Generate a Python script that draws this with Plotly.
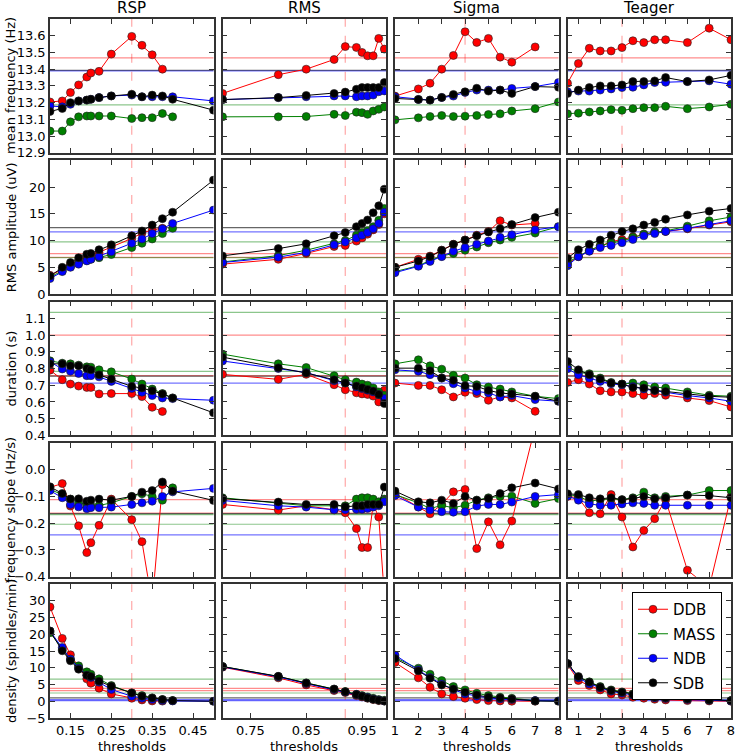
import plotly.graph_objects as go
from plotly.subplots import make_subplots

# thresholds per detector
methods = ["RSP", "RMS", "Sigma", "Teager"]
databases = ["DDB", "MASS", "NDB", "SDB"]
metrics = ["mean frequency (Hz)", "RMS amplitude (uV)", "duration (s)",
           "frequency slope (Hz/s)", "density (spindles/min)"]

rsp_x = [0.1, 0.13, 0.15, 0.17, 0.19, 0.2, 0.22, 0.25, 0.3, 0.325, 0.35, 0.375, 0.4, 0.5]
rms_x = [0.7, 0.8, 0.85, 0.9, 0.92, 0.94, 0.95, 0.96, 0.97, 0.98, 0.99]
sigma_x = [1, 2, 2.5, 3, 3.5, 4, 4.5, 5, 5.5, 6, 7, 8]
teager_x = [0.5, 1, 1.5, 2, 2.5, 3, 3.5, 4, 4.5, 5, 6, 7, 8]

chosen_thr = [0.3, 0.92, 4, 3]

# ---- RSP ----
rsp_freq = {
    "DDB": [13.204, 13.21, 13.26, 13.306, 13.353, 13.377, 13.387, 13.49, 13.596, 13.543, 13.486, 13.40, None, None],
    "MASS": [13.03, 13.03, 13.085, 13.115, 13.12, 13.12, 13.12, 13.12, 13.105, 13.11, 13.11, 13.135, 13.115, None],
    "NDB": [13.18, 13.175, 13.19, 13.21, 13.215, 13.22, 13.23, 13.24, 13.245, 13.235, 13.235, 13.235, 13.235, 13.21],
    "SDB": [13.147, 13.165, 13.20, 13.21, 13.215, 13.22, 13.23, 13.24, 13.25, 13.235, 13.245, 13.24, 13.22, 13.155],
}
rsp_amp = {
    "DDB": [3.5, 4.6, 5.5, 6.2, 7.1, 7.3, 7.8, 8.8, 10.4, 11.4, 12.0, 12.3, None, None],
    "MASS": [3.2, 4.3, 5.1, 5.8, 6.3, 6.5, 6.8, 7.4, 8.7, 9.5, 10.3, 11.3, 12.3, None],
    "NDB": [2.9, 4.2, 5.0, 5.6, 6.2, 6.5, 7.0, 7.9, 9.5, 10.3, 11.3, 12.2, 13.2, 15.7],
    "SDB": [3.4, 5.0, 5.9, 6.8, 7.45, 7.6, 8.3, 9.2, 10.9, 11.8, 12.9, 14.1, 15.3, 21.3],
}
rsp_dur = {
    "DDB": [0.79, 0.733, 0.707, 0.695, 0.687, 0.687, 0.648, 0.65, 0.65, 0.632, 0.568, 0.543, None, None],
    "MASS": [0.846, 0.832, 0.828, 0.82, 0.81, 0.808, 0.792, 0.78, 0.737, 0.707, 0.677, 0.65, 0.624, None],
    "NDB": [0.84, 0.797, 0.783, 0.77, 0.757, 0.757, 0.75, 0.723, 0.68, 0.658, 0.638, 0.624, 0.62, 0.61],
    "SDB": [0.828, 0.828, 0.816, 0.816, 0.80, 0.792, 0.762, 0.737, 0.693, 0.683, 0.667, 0.648, 0.624, 0.535],
}
rsp_slope = {
    "DDB": [-0.066, -0.052, -0.136, -0.21, -0.31, -0.273, -0.208, -0.11, -0.187, -0.269, -0.5, -0.056, None, None],
    "MASS": [-0.074, -0.093, -0.11, -0.124, -0.13, -0.134, -0.134, -0.124, -0.10, -0.09, -0.10, -0.114, -0.068, None],
    "NDB": [-0.078, -0.105, -0.13, -0.139, -0.146, -0.142, -0.142, -0.14, -0.13, -0.124, -0.118, -0.10, -0.083, -0.07],
    "SDB": [-0.064, -0.089, -0.11, -0.109, -0.118, -0.114, -0.11, -0.114, -0.10, -0.084, -0.078, -0.046, -0.08, -0.115],
}
rsp_dens = {
    "DDB": [28.2, 18.8, 13.9, 10.2, 6.7, 5.4, 3.9, 2.2, 0.9, 0.4, 0.1, 0.05, None, None],
    "MASS": [20.5, 15.6, 12.6, 10.6, 8.8, 8.1, 6.7, 4.7, 2.5, 1.7, 1.0, 0.5, 0.2, None],
    "NDB": [21.0, 16.1, 12.6, 9.9, 7.8, 7.1, 5.7, 3.5, 1.5, 0.9, 0.5, 0.2, 0.1, 0.0],
    "SDB": [21.0, 15.1, 12.1, 9.6, 7.8, 7.4, 6.0, 4.5, 2.5, 1.5, 1.0, 0.5, 0.2, 0.0],
}

# ---- RMS ----
rms_freq = {
    "DDB": [13.255, 13.367, 13.40, 13.458, 13.535, 13.53, 13.50, 13.48, 13.48, 13.584, 13.52],
    "MASS": [13.115, 13.115, 13.117, 13.13, 13.123, 13.143, 13.14, 13.13, 13.15, 13.16, 13.174],
    "NDB": [13.218, 13.23, 13.235, 13.24, 13.24, 13.235, 13.24, 13.24, 13.245, 13.265, 13.27],
    "SDB": [13.218, 13.23, 13.243, 13.255, 13.263, 13.28, 13.29, 13.29, 13.29, 13.29, 13.32],
}
rms_amp = {
    "DDB": [5.6, 6.5, 7.6, 8.9, 9.1, 9.9, 10.5, 11.2, 12.0, 13.0, 15.0],
    "MASS": [6.0, 7.2, 8.2, 9.4, 10.0, 11.0, 11.5, 11.9, 12.6, 13.8, 16.0],
    "NDB": [5.9, 6.9, 7.8, 9.2, 9.75, 10.5, 11.0, 11.5, 12.2, 13.2, 15.3],
    "SDB": [7.14, 8.5, 9.4, 10.9, 11.5, 12.6, 13.2, 13.85, 15.2, 16.5, 19.6],
}
rms_dur = {
    "DDB": [0.765, 0.735, 0.765, 0.703, 0.673, 0.655, 0.648, 0.645, 0.635, 0.60, 0.67],
    "MASS": [0.886, 0.828, 0.806, 0.757, 0.733, 0.719, 0.707, 0.70, 0.684, 0.66, 0.64],
    "NDB": [0.845, 0.80, 0.776, 0.727, 0.713, 0.69, 0.68, 0.67, 0.66, 0.645, 0.62],
    "SDB": [0.868, 0.804, 0.773, 0.733, 0.713, 0.695, 0.685, 0.675, 0.665, 0.645, 0.59],
}
rms_slope = {
    "DDB": [-0.13, -0.151, -0.135, -0.15, -0.161, -0.22, -0.291, -0.291, -0.13, -0.177, -0.47],
    "MASS": [-0.105, -0.125, -0.135, -0.135, -0.135, -0.11, -0.105, -0.105, -0.11, -0.12, -0.11],
    "NDB": [-0.115, -0.135, -0.14, -0.15, -0.15, -0.148, -0.148, -0.145, -0.14, -0.135, -0.12],
    "SDB": [-0.108, -0.121, -0.13, -0.13, -0.139, -0.135, -0.135, -0.13, -0.13, -0.13, -0.065],
}
rms_dens = {
    "DDB": [10.2, 7.0, 4.9, 3.2, 2.6, 1.7, 1.3, 0.9, 0.5, 0.2, 0.05],
    "MASS": [10.4, 7.4, 5.5, 3.6, 2.9, 2.1, 1.7, 1.3, 0.9, 0.5, 0.3],
    "NDB": [10.3, 7.3, 5.3, 3.5, 2.8, 2.0, 1.5, 1.1, 0.7, 0.35, 0.1],
    "SDB": [10.4, 7.45, 5.45, 3.67, 2.87, 2.0, 1.5, 1.0, 0.6, 0.3, 0.1],
}

# ---- Sigma ----
sigma_freq = {
    "DDB": [13.239, 13.282, 13.316, 13.40, 13.482, 13.624, 13.56, 13.584, 13.472, 13.442, 13.533, None],
    "MASS": [13.097, 13.109, 13.117, 13.123, 13.117, 13.119, 13.123, 13.129, 13.133, 13.15, 13.164, 13.204],
    "NDB": [13.235, 13.219, 13.215, 13.231, 13.239, 13.261, 13.275, 13.275, 13.275, 13.285, 13.296, 13.32],
    "SDB": [13.225, 13.219, 13.215, 13.231, 13.249, 13.265, 13.286, 13.269, 13.275, 13.255, 13.296, 13.292],
}
sigma_amp = {
    "DDB": [5.0, 6.5, 7.1, 8.2, 9.3, 10.1, 11.0, 11.7, 13.7, 12.9, 13.2, None],
    "MASS": [4.2, 5.3, 6.3, 7.1, 7.6, 8.2, 8.8, 9.6, 10.1, 10.6, 11.4, 12.6],
    "NDB": [4.0, 5.2, 6.1, 7.0, 8.0, 8.7, 9.3, 9.9, 10.6, 11.1, 12.0, 12.6],
    "SDB": [5.0, 6.2, 7.0, 8.2, 9.3, 10.1, 10.9, 11.6, 12.2, 13.0, 14.3, 15.3],
}
sigma_dur = {
    "DDB": [0.713, 0.699, 0.699, 0.673, 0.63, 0.658, 0.65, 0.61, 0.63, 0.624, 0.544, None],
    "MASS": [0.828, 0.852, 0.816, 0.796, 0.759, 0.743, 0.703, 0.689, 0.677, 0.66, 0.634, 0.62],
    "NDB": [0.792, 0.783, 0.763, 0.743, 0.709, 0.683, 0.663, 0.654, 0.63, 0.638, 0.614, 0.604],
    "SDB": [0.802, 0.802, 0.787, 0.743, 0.729, 0.697, 0.693, 0.669, 0.654, 0.648, 0.634, 0.604],
}
sigma_slope = {
    "DDB": [-0.089, -0.139, -0.165, -0.13, -0.083, -0.074, -0.295, -0.195, -0.281, -0.192, 0.16, None],
    "MASS": [-0.093, -0.124, -0.145, -0.134, -0.142, -0.133, -0.114, -0.105, -0.10, -0.099, -0.126, -0.108],
    "NDB": [-0.097, -0.14, -0.151, -0.157, -0.159, -0.157, -0.136, -0.13, -0.13, -0.121, -0.10, -0.093],
    "SDB": [-0.08, -0.12, -0.124, -0.114, -0.126, -0.10, -0.114, -0.108, -0.089, -0.068, -0.05, -0.072],
}
sigma_dens = {
    "DDB": [11.6, 7.0, 4.2, 2.2, 1.4, 0.9, 0.5, 0.2, 0.1, 0.0, 0.0, None],
    "MASS": [13.1, 9.9, 8.1, 6.2, 4.4, 3.4, 2.4, 1.7, 1.2, 0.9, 0.2, 0.1],
    "NDB": [13.8, 9.4, 7.1, 5.2, 3.5, 2.2, 1.5, 1.0, 0.7, 0.5, 0.2, 0.1],
    "SDB": [12.8, 9.1, 6.9, 4.9, 3.7, 2.7, 1.9, 1.2, 1.0, 0.7, 0.1, 0.0],
}

# ---- Teager ----
teager_freq = {
    "DDB": [13.316, 13.434, 13.525, 13.509, 13.509, 13.529, 13.57, 13.559, 13.576, 13.576, 13.559, 13.645, 13.576],
    "MASS": [13.133, 13.137, 13.144, 13.15, 13.158, 13.154, 13.164, 13.17, 13.17, 13.178, 13.164, 13.174, 13.19],
    "NDB": [13.265, 13.269, 13.269, 13.275, 13.282, 13.29, 13.292, 13.306, 13.32, 13.322, 13.326, 13.33, 13.31],
    "SDB": [13.255, 13.275, 13.29, 13.30, 13.30, 13.306, 13.326, 13.326, 13.33, 13.35, 13.326, 13.336, 13.363],
}
teager_amp = {
    "DDB": [5.6, 7.0, 8.1, 9.0, 9.8, 10.2, 10.7, 11.2, 11.6, 11.7, 12.2, 12.9, 13.5],
    "MASS": [5.9, 7.1, 8.2, 9.0, 9.6, 9.9, 10.6, 11.2, 11.6, 11.8, 12.7, 13.7, 14.4],
    "NDB": [5.3, 7.0, 8.0, 8.7, 9.1, 9.6, 10.2, 10.9, 11.3, 11.7, 12.3, 13.0, 13.7],
    "SDB": [6.7, 8.3, 9.3, 10.1, 11.0, 11.7, 12.2, 12.9, 13.4, 14.0, 14.8, 15.5, 16.0],
}
teager_dur = {
    "DDB": [0.717, 0.733, 0.707, 0.667, 0.66, 0.66, 0.65, 0.64, 0.65, 0.64, 0.624, 0.608, 0.57],
    "MASS": [0.81, 0.777, 0.769, 0.743, 0.717, 0.707, 0.713, 0.703, 0.689, 0.683, 0.66, 0.64, 0.634],
    "NDB": [0.798, 0.763, 0.743, 0.723, 0.709, 0.703, 0.693, 0.677, 0.669, 0.658, 0.638, 0.624, 0.604],
    "SDB": [0.842, 0.792, 0.763, 0.737, 0.713, 0.707, 0.687, 0.683, 0.669, 0.663, 0.648, 0.634, 0.628],
}
teager_slope = {
    "DDB": [-0.10, -0.105, -0.161, -0.165, -0.093, -0.177, -0.289, -0.227, -0.183, -0.112, -0.376, -0.44, -0.10],
    "MASS": [-0.093, -0.099, -0.118, -0.112, -0.109, -0.112, -0.105, -0.084, -0.105, -0.10, -0.095, -0.078, -0.078],
    "NDB": [-0.099, -0.114, -0.128, -0.133, -0.133, -0.128, -0.124, -0.126, -0.133, -0.133, -0.133, -0.133, -0.133],
    "SDB": [-0.09, -0.093, -0.105, -0.109, -0.105, -0.112, -0.108, -0.10, -0.109, -0.105, -0.095, -0.097, -0.105],
}
teager_dens = {
    "DDB": [11.0, 6.2, 4.7, 3.4, 2.2, 1.9, 1.2, 0.9, 0.6, 0.4, 0.2, 0.1, 0.0],
    "MASS": [11.2, 7.2, 5.8, 4.4, 3.4, 2.8, 2.2, 1.8, 1.3, 1.1, 0.7, 0.4, 0.2],
    "NDB": [11.2, 7.0, 5.2, 4.0, 3.0, 2.4, 1.8, 1.4, 1.0, 0.8, 0.5, 0.3, 0.1],
    "SDB": [11.3, 7.4, 5.7, 4.2, 3.2, 2.7, 2.0, 1.7, 1.2, 1.0, 0.7, 0.4, 0.2],
}

# expert reference values (horizontal lines), same in every column
ref_freq = [("DDB", 13.468), ("SDB", 13.393), ("NDB", 13.389), ("MASS", 13.186)]
ref_amp = [("SDB", 12.42), ("NDB", 11.61), ("MASS", 9.75), ("DDB", 7.58), ("DDB", 6.86), ("MASS", 6.82)]
ref_dur = [("MASS", 1.136), ("DDB", 1.0), ("MASS", 0.783), ("DDB", 0.757), ("SDB", 0.755), ("NDB", 0.713)]
ref_slope = [("DDB", -0.112), ("DDB", -0.162), ("SDB", -0.164), ("MASS", -0.168), ("MASS", -0.204), ("NDB", -0.244)]
ref_dens = [("MASS", 6.65), ("DDB", 3.87), ("DDB", 3.18), ("MASS", 2.48), ("SDB", 1.0), ("NDB", 0.5), ("NDB", 0.2)]

xs = [rsp_x, rms_x, sigma_x, teager_x]
panels = [
    [rsp_freq, rms_freq, sigma_freq, teager_freq],
    [rsp_amp, rms_amp, sigma_amp, teager_amp],
    [rsp_dur, rms_dur, sigma_dur, teager_dur],
    [rsp_slope, rms_slope, sigma_slope, teager_slope],
    [rsp_dens, rms_dens, sigma_dens, teager_dens],
]
refs = [ref_freq, ref_amp, ref_dur, ref_slope, ref_dens]

colors = {"DDB": "#ff0000", "MASS": "#008000", "NDB": "#0000ff", "SDB": "#000000"}
ref_colors = {"DDB": "rgba(255,0,0,0.45)", "MASS": "rgba(0,128,0,0.45)",
              "NDB": "rgba(0,0,255,0.55)", "SDB": "rgba(0,0,0,0.6)"}

x_ranges = [[0.1, 0.5], [0.7, 0.993], [1, 8], [0.5, 8]]
x_ticks = [[0.15, 0.25, 0.35, 0.45], [0.75, 0.85, 0.95], list(range(1, 9)), list(range(1, 9))]
y_ranges = [[12.9, 13.7], [0, 25], [0.4, 1.2], [-0.4, 0.1], [-5, 35]]
y_ticks = [
    [12.9, 13.0, 13.1, 13.2, 13.3, 13.4, 13.5, 13.6],
    [0, 5, 10, 15, 20],
    [0.4, 0.5, 0.6, 0.7, 0.8, 0.9, 1.0, 1.1],
    [-0.4, -0.3, -0.2, -0.1, 0.0],
    [-5, 0, 5, 10, 15, 20, 25, 30],
]
y_fmt = [".1f", "", ".1f", ".1f", ""]

W, H = 737, 753
ml, mr, mt, mb = 50, 6, 19, 35
pw, ph = W - ml - mr, H - mt - mb

fig = make_subplots(rows=5, cols=4, horizontal_spacing=9 / pw, vertical_spacing=7.5 / ph)

for r in range(5):
    for c in range(4):
        for db in databases:
            fig.add_trace(go.Scatter(
                x=xs[c], y=panels[r][c][db], mode="lines+markers", name=db,
                legendgroup=db, showlegend=(r == 0 and c == 0),
                line=dict(color=colors[db], width=1),
                marker=dict(size=8, color=colors[db], line=dict(color="#222", width=0.6)),
            ), row=r + 1, col=c + 1)
        for db, val in refs[r]:
            fig.add_hline(y=val, row=r + 1, col=c + 1, layer="below",
                          line=dict(color=ref_colors[db], width=1.2))
        fig.add_vline(x=chosen_thr[c], row=r + 1, col=c + 1, layer="below",
                      line=dict(color="rgba(255,0,0,0.35)", width=1.2, dash="dash"))

        fig.update_xaxes(range=x_ranges[c], tickvals=x_ticks[c],
                         showticklabels=(r == 4), row=r + 1, col=c + 1)
        fig.update_yaxes(range=y_ranges[r], tickvals=y_ticks[r], tickformat=y_fmt[r],
                         showticklabels=(c == 0), row=r + 1, col=c + 1)

fig.update_xaxes(showline=True, linecolor="#333", linewidth=1.5, mirror="ticks",
                 ticks="inside", ticklen=5, tickcolor="#333", showgrid=False,
                 zeroline=False, automargin=False, tickfont=dict(size=13, color="black"))
fig.update_yaxes(showline=True, linecolor="#333", linewidth=1.5, mirror="ticks",
                 ticks="inside", ticklen=5, tickcolor="#333", showgrid=False,
                 zeroline=False, automargin=False, tickfont=dict(size=13, color="black"))

annotations = []
for c, name in enumerate(methods):
    dom = fig.layout["xaxis" + ("" if c == 0 else str(c + 1))].domain
    mid = (dom[0] + dom[1]) / 2
    annotations.append(dict(text=name, x=mid, y=1, xref="paper", yref="paper",
                            xanchor="center", yanchor="bottom", yshift=0,
                            showarrow=False, font=dict(size=15, color="black")))
    annotations.append(dict(text="thresholds", x=mid, y=0, xref="paper", yref="paper",
                            xanchor="center", yanchor="top", yshift=-19,
                            showarrow=False, font=dict(size=13, color="black")))
for r, label in enumerate(metrics):
    dom = fig.layout["yaxis" + ("" if r == 0 else str(r * 4 + 1))].domain
    annotations.append(dict(text=label, x=0, y=(dom[0] + dom[1]) / 2, xref="paper",
                            yref="paper", xanchor="center", yanchor="middle", xshift=-39,
                            textangle=-90, showarrow=False,
                            font=dict(size=13, color="black")))

fig.update_layout(
    width=W, height=H, template="none",
    paper_bgcolor="white", plot_bgcolor="white",
    margin=dict(l=ml, r=mr, t=mt, b=mb),
    font=dict(family="DejaVu Sans", size=13, color="black"),
    annotations=annotations,
    legend=dict(x=(632 - ml) / pw, y=1 - (592 - mt) / ph, xanchor="left", yanchor="top",
                bordercolor="black", borderwidth=1, bgcolor="white",
                font=dict(size=15, color="black"), tracegroupgap=2),
)

fig.write_html("out.html", config={"displayModeBar": False},
               post_script="document.body.style.margin='0px';")
